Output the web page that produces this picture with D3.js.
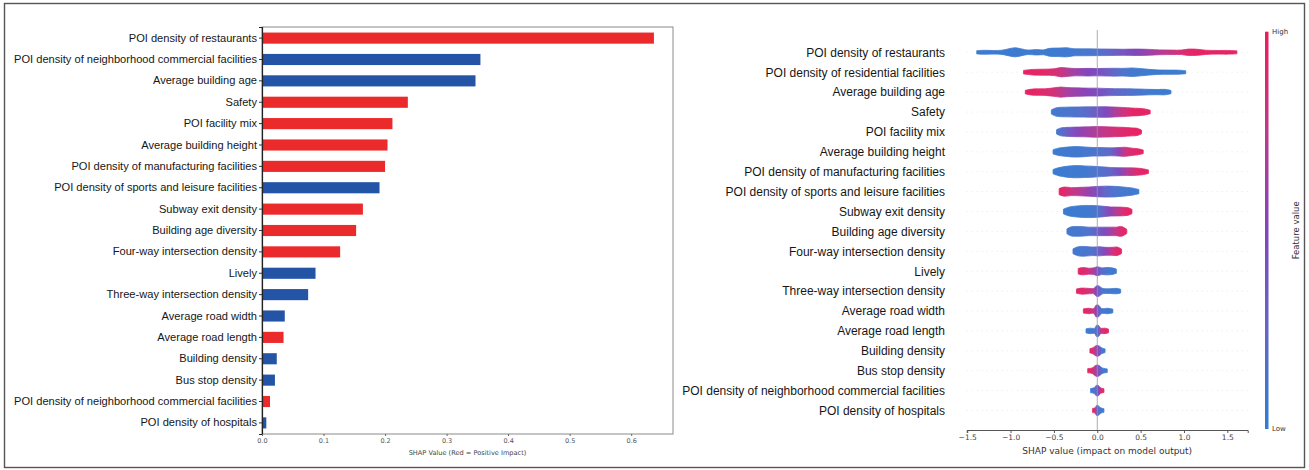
<!DOCTYPE html>
<html>
<head>
<meta charset="utf-8">
<script src="https://d3js.org/d3.v7.min.js"></script>
<style>
  body { margin: 0; background: #fff; }
  svg text { font-family: "Liberation Sans", Arial, sans-serif; }
  .dv { font-family: "DejaVu Sans", sans-serif !important; }
</style>
</head>
<body>
<div id="chart"></div>
<script>
// Left panel: mean SHAP bars (red = positive impact)
const barFeatures = [
  "POI density of restaurants",
  "POI density of neighborhood commercial facilities",
  "Average building age",
  "Safety",
  "POI facility mix",
  "Average building height",
  "POI density of manufacturing facilities",
  "POI density of sports and leisure facilities",
  "Subway exit density",
  "Building age diversity",
  "Four-way intersection density",
  "Lively",
  "Three-way intersection density",
  "Average road width",
  "Average road length",
  "Building density",
  "Bus stop density",
  "POI density of neighborhood commercial facilities",
  "POI density of hospitals"
];
const barValues = [0.637, 0.355, 0.347, 0.237, 0.212, 0.204, 0.200, 0.191, 0.164, 0.153,
                   0.127, 0.087, 0.075, 0.037, 0.035, 0.024, 0.021, 0.013, 0.007];
const barPositive = [true, false, false, true, true, true, true, false, true, true,
                     true, false, false, false, true, false, false, true, false];
const barTicks = [0, 0.1, 0.2, 0.3, 0.4, 0.5, 0.6];

// Right panel: SHAP beeswarm, each row as [shap value, relative density, feature value]
const swarmFeatures = [
  "POI density of restaurants",
  "POI density of residential facilities",
  "Average building age",
  "Safety",
  "POI facility mix",
  "Average building height",
  "POI density of manufacturing facilities",
  "POI density of sports and leisure facilities",
  "Subway exit density",
  "Building age diversity",
  "Four-way intersection density",
  "Lively",
  "Three-way intersection density",
  "Average road width",
  "Average road length",
  "Building density",
  "Bus stop density",
  "POI density of neighborhood commercial facilities",
  "POI density of hospitals"
];
const swarmShapes = [
  [[-1.39,0.12,0.05],[-1.3,0.18,0.05],[-1.2,0.15,0.05],[-1.1,0.2,0.05],[-1.03,0.4,0.05],[-0.95,0.6,0.05],[-0.87,0.4,0.05],[-0.8,0.22,0.05],[-0.7,0.3,0.05],[-0.62,0.25,0.05],[-0.55,0.5,0.05],[-0.45,0.55,0.06],[-0.35,0.6,0.06],[-0.28,0.45,0.07],[-0.15,0.42,0.08],[0,0.4,0.12],[0.15,0.38,0.25],[0.3,0.35,0.4],[0.45,0.38,0.5],[0.6,0.33,0.6],[0.72,0.25,0.7],[0.85,0.22,0.78],[0.97,0.22,0.88],[1.05,0.38,0.92],[1.15,0.35,0.95],[1.25,0.2,0.95],[1.4,0.15,0.95],[1.5,0.16,0.95],[1.61,0.1,0.95]],
  [[-0.85,0.15,0.95],[-0.75,0.3,0.95],[-0.6,0.35,0.92],[-0.5,0.4,0.88],[-0.42,0.62,0.8],[-0.35,0.55,0.7],[-0.25,0.45,0.6],[-0.1,0.48,0.5],[0,0.45,0.45],[0.1,0.48,0.35],[0.2,0.5,0.22],[0.3,0.48,0.12],[0.4,0.55,0.08],[0.5,0.45,0.06],[0.6,0.32,0.05],[0.7,0.22,0.05],[0.85,0.2,0.05],[0.95,0.18,0.05],[1.02,0.1,0.05]],
  [[-0.83,0.15,0.95],[-0.75,0.35,0.95],[-0.6,0.4,0.9],[-0.5,0.55,0.85],[-0.42,0.68,0.75],[-0.35,0.6,0.65],[-0.25,0.55,0.58],[-0.1,0.5,0.52],[0,0.5,0.45],[0.1,0.45,0.35],[0.2,0.42,0.25],[0.35,0.4,0.15],[0.5,0.35,0.1],[0.6,0.3,0.07],[0.7,0.28,0.05],[0.78,0.3,0.05],[0.85,0.12,0.05]],
  [[-0.53,0.2,0.08],[-0.47,0.55,0.08],[-0.35,0.65,0.1],[-0.2,0.68,0.15],[-0.1,0.7,0.22],[0,0.7,0.35],[0.1,0.72,0.48],[0.2,0.66,0.65],[0.3,0.6,0.82],[0.4,0.5,0.92],[0.48,0.45,0.95],[0.55,0.35,0.95],[0.61,0.15,0.95]],
  [[-0.47,0.2,0.1],[-0.42,0.5,0.15],[-0.33,0.6,0.35],[-0.2,0.65,0.55],[-0.1,0.68,0.62],[0,0.72,0.7],[0.1,0.7,0.78],[0.2,0.65,0.85],[0.3,0.6,0.9],[0.4,0.5,0.95],[0.46,0.45,0.95],[0.51,0.15,0.95]],
  [[-0.51,0.2,0.05],[-0.45,0.45,0.05],[-0.35,0.62,0.06],[-0.25,0.72,0.07],[-0.15,0.65,0.08],[-0.05,0.55,0.1],[0.05,0.55,0.15],[0.15,0.5,0.25],[0.25,0.55,0.55],[0.32,0.6,0.8],[0.4,0.45,0.9],[0.47,0.35,0.95],[0.53,0.15,0.95]],
  [[-0.51,0.2,0.05],[-0.45,0.5,0.05],[-0.35,0.75,0.05],[-0.25,0.85,0.06],[-0.15,0.8,0.07],[-0.05,0.75,0.1],[0.05,0.65,0.15],[0.15,0.55,0.25],[0.25,0.5,0.45],[0.35,0.48,0.7],[0.45,0.45,0.88],[0.52,0.35,0.95],[0.59,0.15,0.95]],
  [[-0.44,0.35,0.95],[-0.38,0.6,0.9],[-0.3,0.5,0.8],[-0.2,0.55,0.7],[-0.1,0.6,0.58],[0,0.7,0.42],[0.1,0.75,0.22],[0.2,0.72,0.12],[0.3,0.6,0.08],[0.4,0.45,0.06],[0.48,0.2,0.05]],
  [[-0.39,0.25,0.05],[-0.32,0.6,0.05],[-0.2,0.8,0.05],[-0.1,0.85,0.07],[0,0.8,0.1],[0.08,0.7,0.35],[0.15,0.6,0.55],[0.22,0.58,0.7],[0.3,0.55,0.88],[0.36,0.45,0.95],[0.4,0.2,0.95]],
  [[-0.35,0.25,0.08],[-0.3,0.6,0.08],[-0.2,0.65,0.1],[-0.1,0.55,0.12],[0,0.55,0.3],[0.08,0.55,0.45],[0.15,0.55,0.6],[0.22,0.55,0.78],[0.28,0.65,0.9],[0.34,0.2,0.95]],
  [[-0.28,0.25,0.08],[-0.22,0.6,0.08],[-0.15,0.65,0.1],[-0.05,0.55,0.15],[0.02,0.6,0.3],[0.1,0.5,0.55],[0.17,0.5,0.8],[0.23,0.55,0.92],[0.28,0.2,0.95]],
  [[-0.22,0.3,0.95],[-0.17,0.45,0.92],[-0.1,0.35,0.82],[-0.04,0.4,0.65],[0,0.6,0.45],[0.05,0.4,0.2],[0.1,0.45,0.1],[0.17,0.4,0.07],[0.22,0.2,0.05]],
  [[-0.24,0.2,0.95],[-0.18,0.35,0.92],[-0.1,0.3,0.85],[-0.04,0.3,0.7],[-0.01,0.7,0.5],[0.02,0.7,0.3],[0.06,0.3,0.1],[0.15,0.25,0.06],[0.22,0.3,0.05],[0.27,0.15,0.05]],
  [[-0.16,0.2,0.95],[-0.1,0.3,0.9],[-0.04,0.25,0.8],[-0.015,0.8,0.55],[0.015,0.8,0.3],[0.05,0.28,0.1],[0.12,0.3,0.06],[0.18,0.15,0.05]],
  [[-0.13,0.2,0.05],[-0.08,0.3,0.06],[-0.03,0.3,0.1],[-0.01,0.75,0.15],[0.015,0.75,0.3],[0.04,0.3,0.8],[0.09,0.3,0.92],[0.13,0.15,0.95]],
  [[-0.085,0.2,0.95],[-0.05,0.35,0.85],[-0.015,0.7,0.65],[0.015,0.7,0.45],[0.05,0.35,0.12],[0.09,0.15,0.05]],
  [[-0.11,0.2,0.95],[-0.06,0.3,0.9],[-0.015,0.75,0.65],[0.015,0.75,0.4],[0.06,0.3,0.1],[0.115,0.15,0.05]],
  [[-0.077,0.2,0.05],[-0.04,0.3,0.08],[-0.012,0.7,0.2],[0.012,0.7,0.45],[0.04,0.3,0.88],[0.077,0.15,0.95]],
  [[-0.054,0.2,0.95],[-0.025,0.3,0.85],[-0.01,0.65,0.4],[0.012,0.65,0.15],[0.04,0.3,0.07],[0.077,0.15,0.05]]
];
const swarmTicks = [-1.5, -1.0, -0.5, 0.0, 0.5, 1.0, 1.5];

const width = 1309;
const height = 470;

const svg = d3.select("#chart")
  .append("svg")
  .attr("width", width)
  .attr("height", height);

// outer frame of the figure
svg.append("rect")
  .attr("x", 4.5).attr("y", 3.5)
  .attr("width", 1300).attr("height", 464)
  .attr("fill", "none")
  .attr("stroke", "#555")
  .attr("stroke-width", 1.4);

// ---------- left: bar chart ----------
const left = { x0: 262, x1: 673, y0: 27, y1: 434 };

const xBar = d3.scaleLinear()
  .domain([0, 0.668])
  .range([left.x0, left.x1]);

const yBar = d3.scaleBand()
  .domain(d3.range(barFeatures.length))
  .range([left.y0, left.y1])
  .paddingInner(0.48)
  .paddingOuter(0.26);

svg.append("rect")
  .attr("x", left.x0).attr("y", left.y0)
  .attr("width", left.x1 - left.x0).attr("height", left.y1 - left.y0)
  .attr("fill", "none")
  .attr("stroke", "#8a8a8a")
  .attr("stroke-width", 1);

svg.selectAll(".bar")
  .data(barValues)
  .enter()
  .append("rect")
  .attr("class", "bar")
  .attr("x", xBar(0))
  .attr("y", (d, i) => yBar(i))
  .attr("width", d => xBar(d) - xBar(0))
  .attr("height", yBar.bandwidth())
  .attr("fill", (d, i) => barPositive[i] ? "#ea2a2b" : "#2354a5");

const yAxisL = svg.append("g")
  .attr("transform", `translate(${left.x0},0)`)
  .call(d3.axisLeft(yBar).tickSize(3).tickPadding(2).tickFormat(i => barFeatures[i]));
yAxisL.select(".domain").attr("stroke", "#222").attr("stroke-width", 1.2);
yAxisL.selectAll("line").attr("stroke", "#333");
yAxisL.selectAll("text")
  .style("font-family", "'Liberation Sans', Arial, sans-serif")
  .style("font-size", "11.1px")
  .attr("fill", "#161616");

const xAxisL = svg.append("g")
  .attr("transform", `translate(0,${left.y1})`)
  .call(d3.axisBottom(xBar).tickValues(barTicks).tickSize(2).tickPadding(2).tickFormat(d3.format(".1f")));
xAxisL.select(".domain").remove();
xAxisL.selectAll("line").attr("stroke", "#666");
xAxisL.selectAll("text")
  .attr("class", "dv")
  .style("font-size", "6.5px")
  .attr("fill", "#555");

svg.append("text")
  .attr("class", "dv")
  .attr("x", (left.x0 + left.x1) / 2)
  .attr("y", 455)
  .attr("text-anchor", "middle")
  .style("font-size", "6.6px")
  .attr("fill", "#444")
  .text("SHAP Value (Red = Positive Impact)");

// ---------- right: beeswarm ----------
const xSw = d3.scaleLinear()
  .domain([-1.506, 1.735])
  .range([966.7, 1247.7]);

const ySw = d3.scalePoint()
  .domain(d3.range(swarmFeatures.length))
  .range([52.3, 410.5]);

const halfH = d3.scaleLinear().domain([0, 1]).range([0.9, 7]);
const colour = d3.scaleLinear()
  .domain([0, 0.5, 1])
  .range(["#2c80d3", "#8046bd", "#ef1b5b"])
  .interpolate(d3.interpolateLab);

// dotted row guides
svg.selectAll(".guide")
  .data(swarmFeatures)
  .enter()
  .append("line")
  .attr("class", "guide")
  .attr("x1", xSw.range()[0]).attr("x2", xSw.range()[1])
  .attr("y1", (d, i) => ySw(i)).attr("y2", (d, i) => ySw(i))
  .attr("stroke", "#d8d8d8")
  .attr("stroke-width", 0.6)
  .attr("stroke-dasharray", "1,4");

const defs = svg.append("defs");

swarmShapes.forEach((pts, i) => {
  const gx1 = xSw(pts[0][0]);
  const gx2 = xSw(pts[pts.length - 1][0]);
  const grad = defs.append("linearGradient")
    .attr("id", "sw" + i)
    .attr("gradientUnits", "userSpaceOnUse")
    .attr("x1", gx1).attr("x2", gx2)
    .attr("y1", 0).attr("y2", 0);
  grad.selectAll("stop")
    .data(pts)
    .enter()
    .append("stop")
    .attr("offset", p => (xSw(p[0]) - gx1) / (gx2 - gx1))
    .attr("stop-color", p => colour(p[2]));

  const yc = ySw(i);
  const area = d3.area()
    .x(p => xSw(p[0]))
    .y0(p => yc - halfH(p[1]))
    .y1(p => yc + halfH(p[1]))
    .curve(d3.curveCatmullRom.alpha(0.5));

  svg.append("path")
    .datum(pts)
    .attr("d", area)
    .attr("fill", `url(#sw${i})`)
    .attr("stroke", `url(#sw${i})`)
    .attr("stroke-width", 0.8)
    .attr("stroke-linejoin", "round");
});

// zero line
svg.append("line")
  .attr("x1", xSw(0)).attr("x2", xSw(0))
  .attr("y1", 30).attr("y2", 430)
  .attr("stroke", "#999")
  .attr("stroke-opacity", 0.8)
  .attr("stroke-width", 1);

const yAxisR = svg.append("g")
  .attr("transform", "translate(947,0)")
  .call(d3.axisLeft(ySw).tickSize(0).tickPadding(2).tickFormat(i => swarmFeatures[i]));
yAxisR.select(".domain").remove();
yAxisR.selectAll("text")
  .style("font-family", "'Liberation Sans', Arial, sans-serif")
  .style("font-size", "12px")
  .attr("fill", "#161616");

const xAxisR = svg.append("g")
  .attr("transform", "translate(0,430)")
  .call(d3.axisBottom(xSw).tickValues(swarmTicks).tickSize(3).tickPadding(2).tickFormat(d3.format(".1f")));
xAxisR.select(".domain").attr("stroke", "#555").attr("stroke-width", 1);
xAxisR.selectAll("line").attr("stroke", "#555");
xAxisR.selectAll("text")
  .attr("class", "dv")
  .style("font-size", "7.5px")
  .attr("fill", "#444");

svg.append("text")
  .attr("class", "dv")
  .attr("x", (xSw.range()[0] + xSw.range()[1]) / 2)
  .attr("y", 454)
  .attr("text-anchor", "middle")
  .style("font-size", "9px")
  .attr("fill", "#333")
  .text("SHAP value (impact on model output)");

// colour bar
const cb = { x: 1265, w: 3.5, y0: 31.7, y1: 429 };
const cbGrad = defs.append("linearGradient")
  .attr("id", "cbar")
  .attr("x1", 0).attr("x2", 0)
  .attr("y1", 1).attr("y2", 0);
cbGrad.selectAll("stop")
  .data([0, 0.25, 0.5, 0.75, 1])
  .enter()
  .append("stop")
  .attr("offset", d => d)
  .attr("stop-color", d => colour(d));

svg.append("rect")
  .attr("x", cb.x).attr("y", cb.y0)
  .attr("width", cb.w).attr("height", cb.y1 - cb.y0)
  .attr("fill", "url(#cbar)");

svg.append("text")
  .attr("class", "dv")
  .attr("x", 1272).attr("y", cb.y0)
  .attr("dy", "0.35em")
  .style("font-size", "7px")
  .attr("fill", "#333")
  .text("High");

svg.append("text")
  .attr("class", "dv")
  .attr("x", 1272).attr("y", cb.y1)
  .attr("dy", "0.35em")
  .style("font-size", "7px")
  .attr("fill", "#333")
  .text("Low");

svg.append("text")
  .attr("class", "dv")
  .attr("transform", `translate(1299,${(cb.y0 + cb.y1) / 2}) rotate(-90)`)
  .attr("text-anchor", "middle")
  .style("font-size", "8.5px")
  .attr("fill", "#333")
  .text("Feature value");
</script>
</body>
</html>
